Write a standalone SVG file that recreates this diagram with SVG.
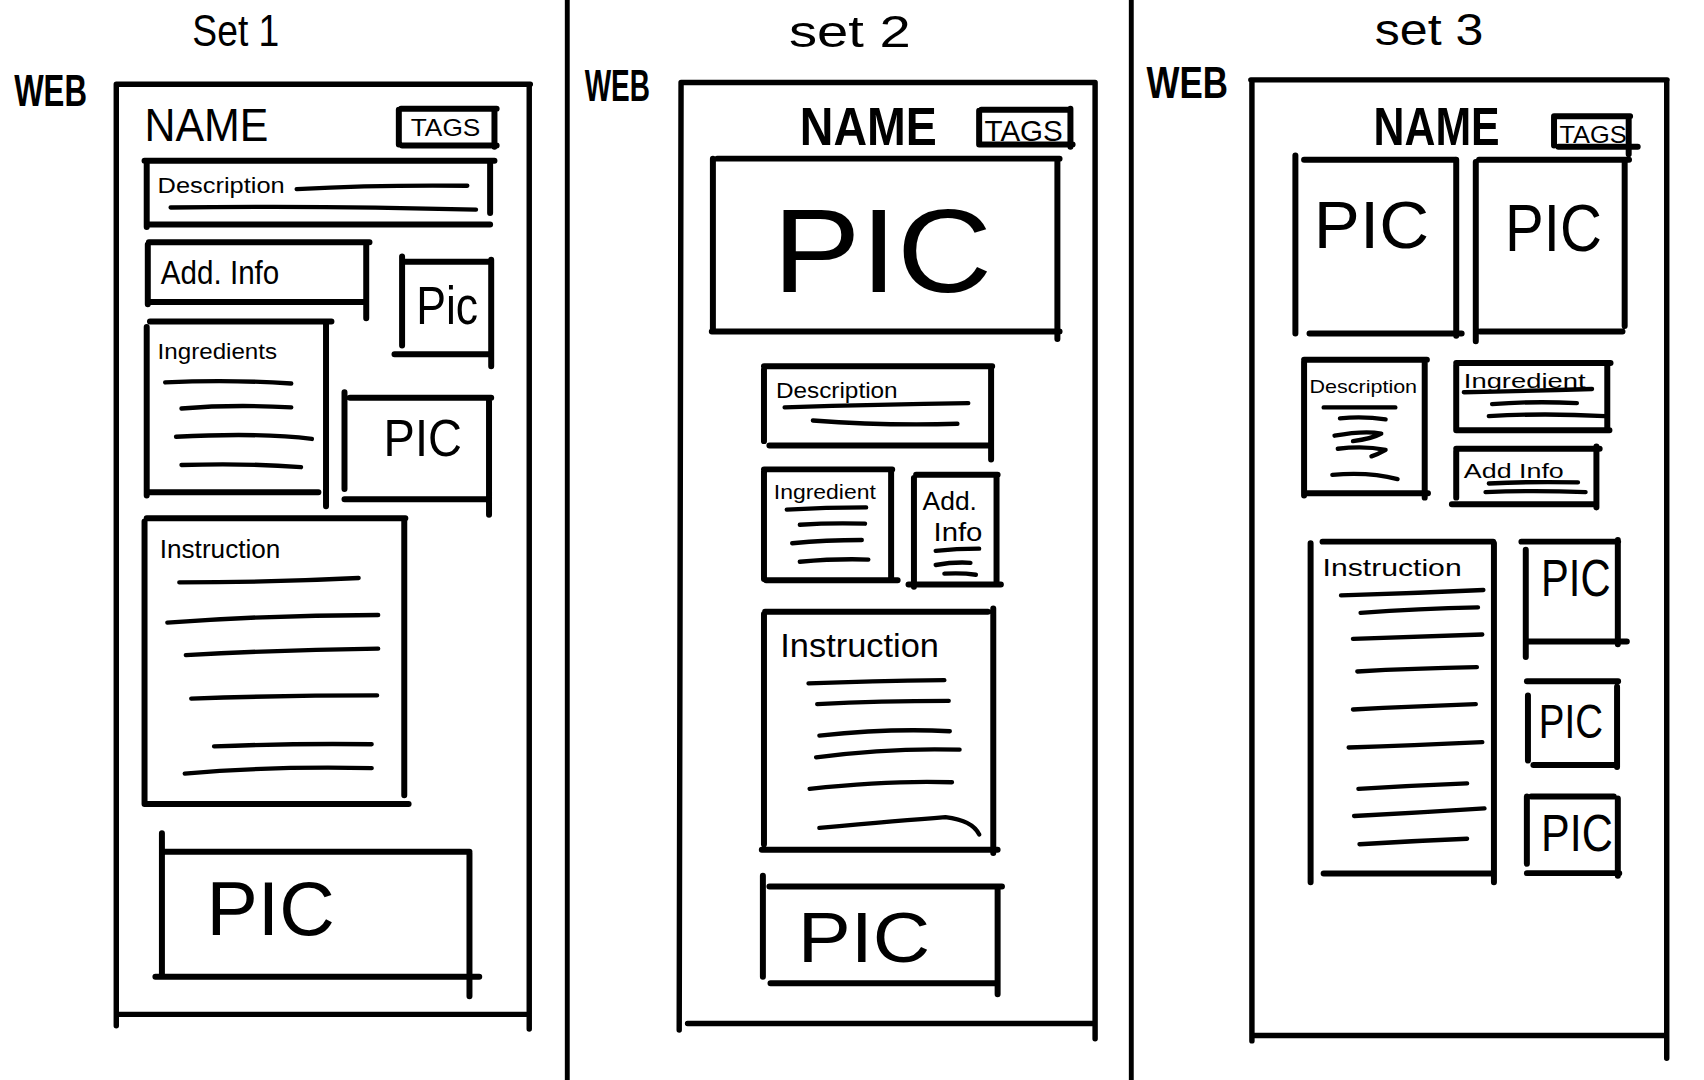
<svg xmlns="http://www.w3.org/2000/svg" width="1704" height="1080" viewBox="0 0 1704 1080">
  <style>
    .ln { fill: none; stroke: #000; stroke-linecap: round; stroke-linejoin: round; }
    .frame { stroke-width: 5; }
    .box { stroke-width: 5.5; }
    .scrib { stroke-width: 4; }
    .div { stroke-width: 4.5; }
    text { fill: #000; font-family: "Liberation Sans", Arial, sans-serif; }
    .title { font-size: 40px; }
    .web { font-size: 40px; font-weight: bold; }
    .name { font-size: 42px; }
    .nameb { font-size: 50px; font-weight: bold; }
    .small { font-size: 20px; }
    .pic { font-size: 60px; }
  </style>
  <rect x="0" y="0" width="1704" height="1080" fill="#fff"/>
  <!-- everything is laid out on a 1568-wide grid and scaled up -->
  <g transform="scale(1.086735 1.086519)">
    <!-- column dividers -->
    <g id="dividers">
      <path class="ln div" d="M522 0 L522 994 M1041 0 L1041 994"/>
    </g>

    <!-- ===== Set 1 ===== -->
    <g id="set1">
      <text class="title" x="177" y="42" textLength="80" lengthAdjust="spacingAndGlyphs">Set 1</text>
      <text class="web" x="13" y="98" textLength="67" lengthAdjust="spacingAndGlyphs">WEB</text>
      <path class="ln frame" d="M107 77.6 L488 77.6 M107 78 L107 944 M487 78 L487 947 M107 933.6 L487 933.6"/>
      <g id="s1-name">
        <text class="name" x="133" y="130" textLength="114" lengthAdjust="spacingAndGlyphs">NAME</text>
      </g>
      <g id="s1-tags">
        <path class="ln box" d="M367 101 L367 133 M369 100 L457 100 M455 100 L455 135 M370 134 L457 134"/>
        <text x="378" y="125" font-size="22" textLength="64" lengthAdjust="spacingAndGlyphs">TAGS</text>
      </g>
      <g id="s1-description">
        <path class="ln box" d="M133 148 L455 148 M135 149 L135 209 M451 150 L451 196 M135 206.6 L451 206.6"/>
        <text class="small" x="145" y="178" textLength="117" lengthAdjust="spacingAndGlyphs">Description</text>
        <path class="ln scrib" d="M273 174 Q350 170 430 171 M157 191 Q300 189 438 193"/>
      </g>
      <g id="s1-addinfo">
        <path class="ln box" d="M137 223 L340 223 M136 225 L136 280 M337 223 L337 293 M136 278 L337 278"/>
        <text x="148" y="261" font-size="30" textLength="109" lengthAdjust="spacingAndGlyphs">Add. Info</text>
      </g>
      <g id="s1-pic-a">
        <path class="ln box" d="M370 236 L370 318 M372 241 L452 241 M452 239 L452 337 M363 326 L452 326"/>
        <text x="383" y="298" font-size="50" textLength="57" lengthAdjust="spacingAndGlyphs">Pic</text>
      </g>
      <g id="s1-ingredients">
        <path class="ln box" d="M138 296 L305 296 M135 301 L135 456 M300 299 L300 466 M135 453 L293 453"/>
        <text class="small" x="145" y="330" font-size="22" textLength="110" lengthAdjust="spacingAndGlyphs">Ingredients</text>
        <path class="ln scrib" d="M152 352 Q210 349 268 353 M167 376 Q215 372 268 375 M162 402 Q240 398 287 404 M167 428 Q225 426 277 430"/>
      </g>
      <g id="s1-pic-b">
        <path class="ln box" d="M317 361 L317 450 M322 366 L452 366 M450 367.6 L450 473.7 M317 459.4 L447 459.4"/>
        <text x="353" y="420" font-size="48" textLength="72" lengthAdjust="spacingAndGlyphs">PIC</text>
      </g>
      <g id="s1-instruction">
        <path class="ln box" d="M135 477 L373 477 M133 480 L133 740 M372 478 L372 732 M133 740 L376 740"/>
        <text x="147" y="514" font-size="24" textLength="111" lengthAdjust="spacingAndGlyphs">Instruction</text>
        <path class="ln scrib" d="M165 536 Q250 536 330 532 M154 573 Q250 566 348 566 M171 603 Q260 598 348 597 M176 643 Q260 640 347 640 M197 687 Q270 684 342 685 M170 712 Q250 705 342 707"/>
      </g>
      <g id="s1-pic-c">
        <path class="ln box" d="M149 767 L149 899 M151 784 L432 784 M432 785 L432 917 M143 899 L441 899"/>
        <text x="190" y="861" font-size="70" textLength="118" lengthAdjust="spacingAndGlyphs">PIC</text>
      </g>
    </g>

    <!-- ===== Set 2 ===== -->
    <g id="set2">
      <text class="title" x="726" y="43" textLength="112" lengthAdjust="spacingAndGlyphs">set 2</text>
      <text class="web" x="538" y="93" textLength="60" lengthAdjust="spacingAndGlyphs">WEB</text>
      <path class="ln frame" d="M626.7 76 L1007.7 76 M626.7 76 L625 948 M1007.7 76 L1007.7 956 M632.7 942 L1006 942"/>
      <g id="s2-name">
        <text class="nameb" x="736" y="133" textLength="126" lengthAdjust="spacingAndGlyphs">NAME</text>
      </g>
      <g id="s2-tags">
        <path class="ln box" d="M901 102 L901 133 M903 101 L985 101 M985 100 L985 135 M903 133 L987 133"/>
        <text x="906" y="130" font-size="28" textLength="72" lengthAdjust="spacingAndGlyphs">TAGS</text>
      </g>
      <g id="s2-pic-main">
        <path class="ln box" d="M656 146 L656 305 M660 146 L975 146 M973 148 L973 312 M655 305 L975 305"/>
        <text x="711" y="269" font-size="110" textLength="202" lengthAdjust="spacingAndGlyphs">PIC</text>
      </g>
      <g id="s2-description">
        <path class="ln box" d="M703 337 L913 337 M703 340 L703 406 M912 340 L912 423 M708 410 L912 410"/>
        <text class="small" x="714" y="366" textLength="112" lengthAdjust="spacingAndGlyphs">Description</text>
        <path class="ln scrib" d="M722 375 Q810 372 891 371 M748 387 Q815 392 881 390"/>
      </g>
      <g id="s2-ingredient">
        <path class="ln box" d="M703 432 L821 432 M703 434 L703 533 M820 434 L820 534 M705 534 L826 534"/>
        <text x="712" y="459" font-size="19" textLength="94" lengthAdjust="spacingAndGlyphs">Ingredient</text>
        <path class="ln scrib" d="M724 469 Q760 467 797 467 M736 483 Q765 481 796 482 M729 500 Q760 497 793 497 M736 517 Q770 514 799 515"/>
      </g>
      <g id="s2-addinfo">
        <path class="ln box" d="M843 437 L918 437 M841 440 L841 540 M917 437 L917 538 M836 538 L921 538"/>
        <text x="849" y="469" font-size="24" textLength="50" lengthAdjust="spacingAndGlyphs">Add.</text>
        <text x="859" y="498" font-size="24" textLength="45" lengthAdjust="spacingAndGlyphs">Info</text>
        <path class="ln scrib" d="M861 507 Q880 505 901 505 M861 520 Q878 517 893 518 M869 528 Q885 527 898 529"/>
      </g>
      <g id="s2-instruction">
        <path class="ln box" d="M704 563 L909 563 M703 565 L703 777 M914 560 L914 785 M701 782 L918 782"/>
        <text x="718" y="605" font-size="30" textLength="146" lengthAdjust="spacingAndGlyphs">Instruction</text>
        <path class="ln scrib" d="M744 629 Q800 627 869 626 M752 648 Q810 645 873 645 M754 677 Q820 670 874 673 M751 697 Q820 688 883 690 M745 726 Q820 718 876 720 M754 762 Q830 755 870 752 Q895 755 901 768"/>
      </g>
      <g id="s2-pic-bottom">
        <path class="ln box" d="M702 806 L702 899 M708 816 L922 816 M918 817 L918 915 M709 905 L918 905"/>
        <text x="734" y="885" font-size="64" textLength="122" lengthAdjust="spacingAndGlyphs">PIC</text>
      </g>
    </g>

    <!-- ===== Set 3 ===== -->
    <g id="set3">
      <text class="title" x="1265" y="41" textLength="100" lengthAdjust="spacingAndGlyphs">set 3</text>
      <text class="web" x="1055" y="90" textLength="75" lengthAdjust="spacingAndGlyphs">WEB</text>
      <path class="ln frame" d="M1151 73.5 L1534 73.5 M1152 74 L1152 958 M1533.7 74 L1533.7 974 M1152 953 L1532 953"/>
      <g id="s3-name">
        <text class="nameb" x="1264" y="133" textLength="116" lengthAdjust="spacingAndGlyphs" font-weight="normal">NAME</text>
      </g>
      <g id="s3-tags">
        <path class="ln box" d="M1430 108 L1430 134 M1430 107 L1500 107 M1498.7 108 L1498.7 142 M1434 135 L1507 135"/>
        <text x="1435" y="132" font-size="22" textLength="62" lengthAdjust="spacingAndGlyphs">TAGS</text>
      </g>
      <g id="s3-pic-a">
        <path class="ln box" d="M1192 143 L1192 307 M1200 147 L1339 147 M1340 147 L1340 309 M1205 307 L1345 307"/>
        <text x="1209" y="228" font-size="62" textLength="106" lengthAdjust="spacingAndGlyphs">PIC</text>
      </g>
      <g id="s3-pic-b">
        <path class="ln box" d="M1358 149 L1358 314 M1361 147 L1499 147 M1495 149 L1495 300 M1362 305 L1493 305"/>
        <text x="1385" y="231" font-size="62" textLength="89" lengthAdjust="spacingAndGlyphs">PIC</text>
      </g>
      <g id="s3-description">
        <path class="ln box" d="M1200 331 L1313 331 M1200 333 L1200 456 M1311 333 L1311 458 M1202 454 L1314 454"/>
        <text x="1205" y="362" font-size="17" textLength="99" lengthAdjust="spacingAndGlyphs">Description</text>
        <path class="ln scrib" d="M1218 375 L1284 375 M1233 385 Q1255 383 1275 386 M1228 401 Q1255 396 1271 399 Q1262 404 1245 406 M1231 413 Q1255 410 1275 414 Q1268 418 1262 420 M1226 437 Q1260 434 1286 441"/>
      </g>
      <g id="s3-ingredient">
        <path class="ln box" d="M1340 334 L1482 334 M1340 336 L1340 396 M1479 335 L1479 396 M1342 396 L1481 396"/>
        <text x="1347" y="357" font-size="18" textLength="112" lengthAdjust="spacingAndGlyphs">Ingredient</text>
        <path class="ln scrib" d="M1347 361 Q1400 360 1465 358 M1373 372 Q1410 369 1451 371 M1370 383 Q1420 380 1477 383"/>
      </g>
      <g id="s3-addinfo">
        <path class="ln box" d="M1340 413 L1472 413 M1340 415 L1340 458 M1469 411 L1469 467 M1336 464 L1469 464"/>
        <text x="1347" y="440" font-size="18" textLength="92" lengthAdjust="spacingAndGlyphs">Add Info</text>
        <path class="ln scrib" d="M1370 445 Q1410 443 1452 444 M1367 453 Q1410 451 1459 453"/>
      </g>
      <g id="s3-instruction">
        <path class="ln box" d="M1217 498.5 L1374 498.5 M1206 500 L1206 812 M1374.7 500 L1374.7 812 M1218 804 L1373 804"/>
        <text x="1217" y="530" font-size="22" textLength="128" lengthAdjust="spacingAndGlyphs">Instruction</text>
        <path class="ln scrib" d="M1234 548 Q1300 546 1365 543 M1252 564 Q1305 560 1360 559 M1245 588 Q1305 586 1364 584 M1249 618 Q1300 615 1359 614 M1245 653 Q1300 650 1358 648 M1241 688 Q1300 686 1364 683 M1250 726 Q1300 723 1350 721 M1246 751 Q1305 748 1366 744 M1251 777 Q1300 774 1350 772"/>
      </g>
      <g id="s3-pic-c">
        <path class="ln box" d="M1400 498.5 L1489 498.5 M1404 506 L1404 604.6 M1488.7 497 L1488.7 593 M1404 590.4 L1497 590.4"/>
        <text x="1418" y="549" font-size="48" textLength="64" lengthAdjust="spacingAndGlyphs">PIC</text>
      </g>
      <g id="s3-pic-d">
        <path class="ln box" d="M1405 627 L1489 627 M1406 640 L1406 700 M1488 632 L1488 706 M1411 704 L1488 704"/>
        <text x="1416" y="679" font-size="44" textLength="59" lengthAdjust="spacingAndGlyphs">PIC</text>
      </g>
      <g id="s3-pic-e">
        <path class="ln box" d="M1409 733 L1485 733 M1405 733 L1405 795 M1488.7 735 L1488.7 806 M1405 803.6 L1490 803.6"/>
        <text x="1418" y="783" font-size="48" textLength="66" lengthAdjust="spacingAndGlyphs">PIC</text>
      </g>
    </g>
  </g>
</svg>
